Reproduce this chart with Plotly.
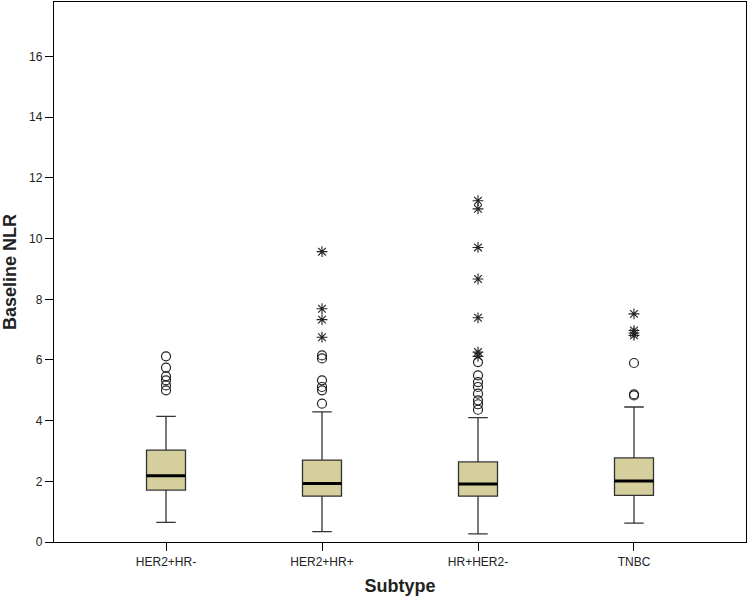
import plotly.graph_objects as go

categories = ["HER2+HR-", "HER2+HR+", "HR+HER2-", "TNBC"]
q1 = [1.71, 1.51, 1.51, 1.54]
median = [2.18, 1.93, 1.91, 2.01]
q3 = [3.03, 2.70, 2.64, 2.77]
lower_whisker = [0.65, 0.34, 0.27, 0.62]
upper_whisker = [4.14, 4.29, 4.10, 4.45]

# mild outliers (circles) and extreme outliers (stars), per subtype
circle_outliers = [
    [6.12, 5.75, 5.46, 5.33, 5.16, 5.00],
    [6.15, 6.05, 5.33, 5.11, 5.00, 4.56],
    [5.93, 5.49, 5.27, 5.11, 4.89, 4.67, 4.54, 4.36],
    [5.90, 4.87, 4.83],
]
star_outliers = [
    [],
    [9.57, 7.69, 7.33, 6.75],
    [11.25, 10.98, 9.71, 8.67, 7.39, 6.26, 6.12],
    [7.52, 6.97, 6.89, 6.81],
]
y_ticks = [0, 2, 4, 6, 8, 10, 12, 14, 16]

pos = list(range(len(categories)))
box_w = 0.25
fig = go.Figure()
fig.add_trace(go.Box(
    x=pos, q1=q1, median=median, q3=q3,
    lowerfence=lower_whisker, upperfence=upper_whisker,
    width=box_w, whiskerwidth=0.5,
    fillcolor="#D4CF9C", line=dict(color="#333333", width=1.3),
    boxpoints=False, showlegend=False, hoverinfo="skip",
))

cx, cy, sx, sy = [], [], [], []
for i in pos:
    cx += [i] * len(circle_outliers[i]); cy += circle_outliers[i]
    sx += [i] * len(star_outliers[i]); sy += star_outliers[i]

fig.add_trace(go.Scatter(
    x=cx, y=cy, mode="markers", showlegend=False,
    marker=dict(symbol="circle-open", size=9, color="#222222", line=dict(width=1.2)),
))
fig.add_trace(go.Scatter(
    x=sx, y=sy, mode="markers", showlegend=False,
    marker=dict(symbol="asterisk-open", size=9, color="#222222", line=dict(width=1.1, color="#222222")),
))

for i in pos:
    fig.add_shape(type="line", xref="x", yref="y",
                  x0=i - box_w / 2, x1=i + box_w / 2, y0=median[i], y1=median[i],
                  line=dict(color="black", width=3))

axis_common = dict(showline=True, linecolor="black", linewidth=1.3, mirror=True,
                   ticks="outside", ticklen=8, tickcolor="black", tickwidth=1.3,
                   showgrid=False, zeroline=False,
                   tickfont=dict(family="Liberation Sans, Arial", size=12, color="#222222"))

fig.update_layout(
    width=749, height=601,
    margin=dict(l=54, r=3, t=2, b=59),
    plot_bgcolor="white", paper_bgcolor="white",
    xaxis=dict(range=[-0.718, 3.718], tickvals=pos, ticktext=categories,
               title=dict(text="<b>Subtype</b>", standoff=11,
                          font=dict(family="Liberation Sans, Arial", size=18, color="#222222")),
               **axis_common),
    yaxis=dict(range=[0, 17.8], tickvals=y_ticks,
               title=dict(text="<b>Baseline NLR</b>", standoff=9,
                          font=dict(family="Liberation Sans, Arial", size=18, color="#222222")),
               **axis_common),
)
fig.write_html("out.html")
